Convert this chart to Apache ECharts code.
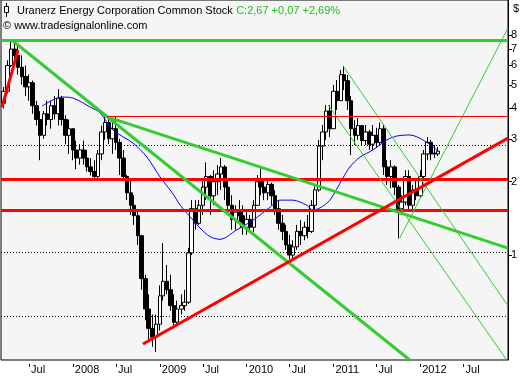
<!DOCTYPE html>
<html><head><meta charset="utf-8">
<script src="https://cdn.jsdelivr.net/npm/echarts@6/dist/echarts.min.js"></script>
<style>html,body{margin:0;padding:0;background:#fff}#c{width:525px;height:380px}</style>
</head><body><div id="c"></div>
<script>
// ---- data ----
const dates = ['2007-03-15','2007-04-01','2007-04-15','2007-05-01','2007-05-15','2007-06-01','2007-06-15','2007-07-01','2007-07-15','2007-08-01','2007-08-15','2007-09-01','2007-09-15','2007-10-01','2007-10-15','2007-11-01','2007-11-15','2007-12-01','2007-12-15',
'2008-01-01','2008-01-15','2008-02-01','2008-02-15','2008-03-01','2008-03-15','2008-04-01','2008-04-15','2008-05-01','2008-05-15','2008-06-01','2008-06-15','2008-07-01','2008-07-15','2008-08-01','2008-08-15','2008-09-01','2008-09-15','2008-10-01','2008-10-15','2008-11-01','2008-11-15','2008-12-01','2008-12-15',
'2009-01-01','2009-01-15','2009-02-01','2009-02-15','2009-03-01','2009-03-15','2009-04-01','2009-04-15','2009-05-01','2009-05-15','2009-06-01','2009-06-15','2009-07-01','2009-07-15','2009-08-01','2009-08-15','2009-09-01','2009-09-15','2009-10-01','2009-10-15','2009-11-01','2009-11-15','2009-12-01','2009-12-15',
'2010-01-01','2010-01-15','2010-02-01','2010-02-15','2010-03-01','2010-03-15','2010-04-01','2010-04-15','2010-05-01','2010-05-15','2010-06-01','2010-06-15','2010-07-01','2010-07-15','2010-08-01','2010-08-15','2010-09-01','2010-09-15','2010-10-01','2010-10-15','2010-11-01','2010-11-15','2010-12-01','2010-12-15',
'2011-01-01','2011-01-15','2011-02-01','2011-02-15','2011-03-01','2011-03-15','2011-04-01','2011-04-15','2011-05-01','2011-05-15','2011-06-01','2011-06-15','2011-07-01','2011-07-15','2011-08-01','2011-08-15','2011-09-01','2011-09-15','2011-10-01','2011-10-15','2011-11-01','2011-11-15','2011-12-01','2011-12-15',
'2012-01-01','2012-01-15','2012-02-01','2012-02-15','2012-03-01','2012-03-15'];
const opens = [4.2,4.7,6.0,7.0,6.6,5.9,5.4,4.9,5.1,4.1,3.6,3.1,3.8,3.6,4.1,3.8,4.4,3.6,3.1,
3.3,2.7,2.5,2.7,2.5,2.3,2.2,2.1,2.6,3.2,3.5,3.0,3.3,2.9,2.5,2.1,1.8,1.6,1.45,1.2,0.8,0.6,0.5,0.46,
0.52,0.68,0.78,0.72,0.62,0.53,0.60,0.62,0.64,1.02,1.55,1.35,1.6,1.9,2.1,1.75,2.0,2.15,2.3,1.9,1.6,1.4,1.5,1.45,
1.3,1.4,1.3,1.6,2.0,1.9,1.8,1.95,1.75,1.55,1.35,1.25,1.1,1.0,1.08,1.25,1.2,1.3,1.25,1.6,1.85,2.8,3.2,3.9,
3.3,4.7,4.3,5.5,5.2,4.3,3.3,3.1,3.4,2.95,3.2,2.85,3.1,2.9,3.3,2.3,2.1,2.3,1.9,1.55,1.65,2.1,1.6,1.85,
1.75,2.1,2.6,2.9,2.62,2.60];
const closes = [4.7,6.0,7.0,6.6,5.9,5.4,4.9,5.1,4.1,3.6,3.1,3.8,3.6,4.1,3.8,4.4,3.6,3.1,3.3,
2.7,2.5,2.7,2.5,2.3,2.2,2.1,2.6,3.2,3.5,3.0,3.3,2.9,2.5,2.1,1.8,1.6,1.45,1.2,0.8,0.6,0.5,0.46,0.52,
0.68,0.78,0.72,0.62,0.53,0.60,0.62,0.64,1.02,1.55,1.35,1.6,1.9,2.1,1.75,2.0,2.15,2.3,1.9,1.6,1.4,1.5,1.45,1.3,
1.4,1.3,1.6,2.0,1.9,1.8,1.95,1.75,1.55,1.35,1.25,1.1,1.0,1.08,1.25,1.2,1.3,1.25,1.6,1.85,2.8,3.2,3.9,3.3,
4.7,4.3,5.5,5.2,4.3,3.3,3.1,3.4,2.95,3.2,2.85,3.1,2.9,3.3,2.3,2.1,2.3,1.9,1.55,1.65,2.1,1.6,1.85,1.75,
2.1,2.6,2.9,2.6,2.60,2.67];
const lows = [4.0,4.6,5.9,6.3,5.5,5.0,4.5,4.3,3.8,3.4,2.45,3.0,3.4,3.3,3.6,3.4,3.4,2.85,2.6,
2.45,2.25,2.35,2.35,2.2,2.12,2.03,2.05,2.45,2.97,2.85,2.6,2.7,2.13,2.03,1.68,1.46,1.33,1.10,0.72,0.54,0.45,0.42,0.40,
0.49,0.65,0.69,0.59,0.50,0.52,0.57,0.59,0.63,1.0,1.27,1.33,1.46,1.68,1.46,1.6,1.76,1.85,1.68,1.46,1.27,1.27,1.33,1.21,
1.21,1.23,1.24,1.6,1.76,1.68,1.68,1.6,1.46,1.27,1.15,1.05,0.96,0.95,1.05,1.1,1.15,1.17,1.23,1.53,1.82,2.45,2.97,3.05,
3.3,3.94,4.3,4.76,3.94,2.57,2.83,2.97,2.8,2.83,2.7,2.7,2.75,2.83,2.13,1.94,1.88,1.76,1.17,1.46,1.6,1.53,1.53,1.68,
1.72,2.05,2.45,2.45,2.5,2.55];
const highs = [4.9,6.3,7.5,7.5,7.3,6.6,6.0,5.5,5.2,4.3,3.9,3.9,4.3,4.3,4.5,4.8,4.5,3.75,3.6,
3.3,2.95,2.85,2.95,2.7,2.5,2.45,2.7,3.4,3.7,3.7,3.6,3.7,3.0,2.7,2.13,2.03,1.76,1.53,1.21,0.83,0.69,0.57,0.57,
0.75,1.12,0.91,0.83,0.69,0.65,0.69,0.72,1.07,1.68,1.68,1.68,2.03,2.4,2.13,2.23,2.34,2.5,2.34,2.03,1.76,1.6,1.68,1.6,
1.53,1.46,1.68,2.13,2.27,2.07,2.03,1.98,1.85,1.68,1.46,1.33,1.21,1.15,1.33,1.39,1.37,1.46,1.68,1.94,2.97,3.42,4.13,4.13,
4.99,5.23,5.75,5.95,5.48,4.5,3.58,3.65,3.42,3.42,3.26,3.42,3.33,3.5,3.42,2.45,2.45,2.33,1.94,1.76,2.23,2.23,1.94,2.03,
2.23,2.7,3.05,2.97,2.83,2.78];
const maDates = ['2007-08-25','2007-11-16','2008-01-01','2008-03-14','2008-04-25','2008-06-18','2008-09-10','2008-11-08','2009-01-02','2009-02-22','2009-03-28','2009-05-21','2009-06-19','2009-07-31','2009-09-11','2009-11-21','2010-01-28','2010-04-09','2010-05-21','2010-07-14','2010-09-11','2010-10-06','2010-11-05','2010-12-17','2011-02-10','2011-03-11','2011-04-22','2011-06-16','2011-08-14','2011-09-25','2011-11-18','2012-01-12','2012-03-11'];
const maValues = [4.09,4.45,4.41,4.05,3.83,3.26,2.88,2.52,2.09,1.80,1.60,1.39,1.29,1.19,1.16,1.27,1.39,1.57,1.68,1.68,1.60,1.53,1.56,1.68,2.07,2.30,2.52,2.70,2.97,3.08,3.11,2.97,2.70];

const xTickDates = ['2007-07-01','2008-01-01','2008-07-01','2009-01-01','2009-07-01','2010-01-01','2010-07-01','2011-01-01','2011-07-01','2012-01-01','2012-07-01'];
const xTickLabels = ['Jul','2008','Jul','2009','Jul','2010','Jul','2011','Jul','2012','Jul'];
const yTicks = [1,2,3,4,5,6,7,8];
const xRange = ['2007-03-05','2013-01-04'];
const yRange = [0.3707, 11.14];

const greenLevel = 7.63;
const redLevels = [2.05, 1.52];
const dottedLevels = [2.83, 1.03, 0.562];
const greenThickLines = [
  [['2007-04-19', 7.63], ['2011-11-18', 0.3707]],
  [['2008-05-24', 3.69], ['2013-01-04', 1.068]]
];
const greenThinLines = [
  [['2011-02-14', 5.91], ['2013-01-04', 0.618]],
  [['2010-12-10', 4.13], ['2012-12-30', 0.3707]],
  [['2011-10-07', 1.174], ['2013-01-04', 8.55]]
];
const redThickLines = [
  [['2007-03-09', 4.05], ['2007-05-16', 6.94]],
  [['2008-10-22', 0.431], ['2013-01-04', 3.02]]
];
const redThinLines = [
  [['2008-05-24', 3.704], ['2013-01-04', 3.704]]
];

// ---- chart ----
const P = s => { const [y, m, d] = s.split('-').map(Number); return new Date(y, m - 1, d).getTime(); };
const FONT = '"Liberation Sans", Arial, sans-serif';
const GREEN = '#33cc33', RED = '#ff0000';

const candleData = dates.map((d, i) => [P(d), opens[i], closes[i], lows[i], highs[i]]);
const xTickTs = xTickDates.map(P);

const series = [
  {
    type: 'candlestick', data: candleData, encode: { x: 0, y: [1, 2, 3, 4] },
    barWidth: 4, itemStyle: { color: '#ffffff', color0: '#000000', borderColor: '#000000', borderColor0: '#000000', borderWidth: 1 },
    z: 2
  },
  {
    type: 'line', data: maDates.map((d, i) => [P(d), maValues[i]]), symbol: 'none', smooth: 0.3,
    lineStyle: { color: '#0000ff', width: 1 }, z: 3
  },
  {
    type: 'line', data: [], symbol: 'none', z: 4,
    markLine: {
      silent: true, symbol: 'none', label: { show: false },
      data: [
        ...dottedLevels.map(v => ({ yAxis: v, lineStyle: { color: '#000', width: 1, type: [1, 2] } })),
        { yAxis: greenLevel, lineStyle: { color: GREEN, width: 3, type: 'solid' } },
        ...redLevels.map(v => ({ yAxis: v, lineStyle: { color: RED, width: 3, type: 'solid' } }))
      ]
    }
  }
];
const addLines = (arr, color, width) => arr.forEach(seg => series.push({
  type: 'line', data: seg.map(p => [P(p[0]), p[1]]), symbol: 'none', z: 5,
  lineStyle: { color, width }
}));
addLines(greenThickLines, GREEN, 3);
addLines(greenThinLines, GREEN, 1);
addLines(redThickLines, RED, 3);
addLines(redThinLines, RED, 1);

const chart = echarts.init(document.getElementById('c'));
chart.setOption({
  animation: false,
  backgroundColor: '#ffffff',
  grid: { left: 1, right: 17, top: 0, bottom: 20, show: true, backgroundColor: '#f5f5f5', borderColor: '#000', borderWidth: 1 },
  xAxis: {
    type: 'value', min: P(xRange[0]), max: P(xRange[1]), offset: 4, scale: true,
    axisLine: { show: false }, splitLine: { show: false },
    axisTick: { show: true, customValues: xTickTs, length: 3, lineStyle: { color: '#000' } },
    axisLabel: {
      customValues: xTickTs, align: 'left', padding: [0, 0, 0, 2], margin: 0,
      fontSize: 11, color: '#000', fontFamily: FONT,
      formatter: v => xTickLabels[xTickTs.indexOf(v)]
    }
  },
  yAxis: {
    type: 'log', logBase: 10, min: yRange[0], max: yRange[1], position: 'right',
    axisLine: { show: true, lineStyle: { color: '#000' } }, splitLine: { show: false },
    axisTick: { show: true, customValues: yTicks, length: 4, lineStyle: { color: '#000' } },
    axisLabel: { customValues: yTicks, margin: 3, fontSize: 11, color: '#000', fontFamily: FONT, formatter: v => String(Math.round(v)) }
  },
  graphic: [
    { type: 'line', shape: { x1: 6.5, y1: 3, x2: 6.5, y2: 17 }, style: { stroke: '#000', lineWidth: 1 } },
    { type: 'rect', shape: { x: 4.5, y: 6.5, width: 4, height: 6 }, style: { fill: '#fff', stroke: '#000', lineWidth: 1 } },
    { type: 'text', style: { x: 17, y: 10.5, verticalAlign: 'middle',
        text: '{a|Uranerz Energy Corporation Common Stock} {b|C:2,67 +0,07 +2,69%}',
        rich: { a: { fill: '#000', fontSize: 11, fontFamily: FONT }, b: { fill: '#22bb22', fontSize: 11, fontFamily: FONT } } } },
    { type: 'text', style: { x: 3, y: 25.5, verticalAlign: 'middle', text: '\u00a9 www.tradesignalonline.com', fill: '#000', font: '11px ' + FONT } },
    { type: 'text', style: { x: 513, y: 9, verticalAlign: 'middle', text: '$', fill: '#000', font: '11px ' + FONT } }
  ],
  series
});
</script></body></html>
